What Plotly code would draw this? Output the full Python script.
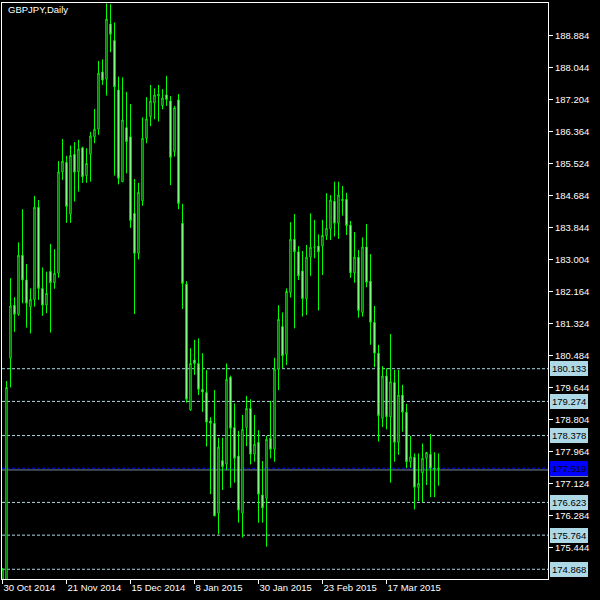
import plotly.graph_objects as go

# ---- data ----
opens = [174.30, 174.40, 180.41, 181.80, 181.56, 183.11, 182.46, 181.76, 181.95, 184.37,
         182.24, 181.80, 182.69, 182.39, 182.64, 185.30, 185.55, 184.19, 185.76, 185.30,
         185.93, 185.20, 185.76, 186.22, 186.42, 187.92, 187.73, 189.18, 188.75, 187.45,
         185.04, 186.46, 186.22, 184.21, 183.16, 184.54, 186.18, 186.75, 187.11, 187.29,
         187.04, 187.32, 187.16, 185.83, 187.19, 183.95, 182.35, 179.05, 180.36, 180.27,
         179.59, 179.51, 178.76, 178.70, 176.34, 177.72, 177.63, 179.91, 178.59, 177.84,
         176.34, 178.59, 179.09, 177.89, 178.20, 176.82, 176.73, 178.31, 178.02, 180.12,
         181.24, 180.51, 182.13, 183.53, 183.20, 182.70, 181.97, 183.06, 183.32, 183.35,
         183.35, 183.62, 183.80, 184.53, 183.95, 184.54, 184.58, 183.90, 182.65, 183.06,
         181.61, 183.33, 182.43, 181.35, 180.54, 178.83, 179.94, 178.87, 179.77, 178.20,
         179.44, 178.99, 177.69, 177.81, 177.02, 177.40, 177.78, 177.89, 177.52, 177.49]
highs = [174.90, 179.81, 182.51, 182.01, 183.45, 184.32, 182.88, 182.24, 184.67, 184.56,
         182.79, 182.68, 183.41, 183.27, 185.58, 186.16, 185.72, 185.99, 186.08, 186.14,
         185.96, 185.92, 186.35, 186.95, 188.21, 188.25, 189.72, 189.70, 189.22, 187.80,
         187.78, 187.40, 187.08, 185.11, 185.01, 186.73, 187.26, 187.58, 187.49, 187.58,
         187.47, 187.82, 187.29, 187.03, 187.34, 184.46, 182.43, 180.67, 180.89, 180.93,
         180.54, 180.10, 178.86, 179.57, 178.32, 178.32, 180.27, 179.95, 179.22, 178.50,
         178.92, 179.42, 179.33, 178.92, 178.52, 177.71, 178.37, 179.29, 180.42, 181.80,
         181.61, 182.24, 183.98, 184.19, 183.35, 183.22, 183.38, 184.21, 184.04, 183.66,
         184.04, 184.74, 184.69, 185.04, 185.04, 184.93, 184.75, 184.01, 183.72, 183.25,
         183.58, 183.93, 183.14, 181.78, 180.76, 180.20, 180.14, 181.04, 180.10, 180.10,
         179.71, 179.21, 178.37, 177.91, 177.91, 178.17, 177.95, 178.42, 177.94, 177.91]
lows = [174.10, 174.20, 179.64, 181.10, 181.52, 181.85, 181.21, 181.06, 181.76, 181.94,
        181.52, 181.59, 181.08, 182.23, 182.52, 185.09, 183.96, 183.96, 184.52, 184.78,
        185.01, 185.01, 185.04, 186.05, 186.27, 187.58, 187.30, 188.44, 185.20, 184.97,
        185.03, 185.26, 183.83, 181.57, 183.00, 184.41, 186.05, 186.50, 186.68, 186.62,
        186.94, 187.03, 184.95, 185.70, 184.32, 181.70, 179.24, 179.03, 179.97, 179.44,
        179.00, 178.09, 176.84, 176.26, 175.79, 176.95, 177.47, 177.01, 177.14, 176.09,
        175.70, 178.10, 177.62, 177.69, 176.09, 176.09, 175.46, 177.78, 177.69, 179.57,
        180.14, 180.23, 182.00, 181.19, 182.46, 181.50, 181.54, 182.57, 183.03, 181.66,
        182.59, 183.51, 183.51, 183.60, 183.54, 184.15, 183.64, 182.52, 182.39, 181.47,
        181.50, 182.27, 180.76, 180.17, 178.22, 178.60, 178.54, 177.14, 177.69, 177.87,
        178.48, 177.52, 177.53, 176.44, 176.66, 176.63, 177.08, 176.76, 176.76, 177.06]
closes = [174.87, 179.64, 181.78, 181.56, 183.11, 182.46, 181.85, 181.95, 184.37, 182.24,
          181.80, 182.11, 182.39, 182.64, 185.30, 185.58, 184.39, 185.73, 185.29, 185.90,
          185.17, 185.52, 186.24, 186.42, 187.89, 187.71, 189.31, 188.91, 187.53, 185.13,
          186.66, 186.09, 184.02, 183.16, 184.76, 186.18, 186.69, 187.16, 187.32, 187.34,
          187.24, 187.20, 185.68, 186.98, 184.47, 182.37, 179.33, 180.27, 180.27, 179.59,
          179.52, 178.73, 178.70, 176.27, 178.08, 177.56, 179.85, 178.57, 177.78, 176.42,
          178.54, 179.09, 177.89, 178.15, 176.84, 176.48, 178.28, 178.02, 180.12, 181.43,
          180.47, 182.16, 183.53, 183.20, 182.57, 181.97, 183.06, 183.32, 183.33, 183.20,
          183.63, 183.82, 184.56, 183.95, 184.69, 184.58, 183.89, 182.65, 183.06, 181.66,
          183.33, 182.40, 181.35, 180.54, 178.90, 179.94, 178.87, 179.79, 178.20, 179.44,
          178.99, 177.69, 177.82, 177.02, 177.12, 177.78, 177.93, 177.52, 177.50, 177.519]
bar_index = list(range(len(opens)))

date_tick_bars = [0, 16, 32, 48, 64, 80, 96]
date_tick_labels = ["30 Oct 2014", "21 Nov 2014", "15 Dec 2014", "8 Jan 2015",
                    "30 Jan 2015", "23 Feb 2015", "17 Mar 2015"]

price_ticks = [188.884, 188.044, 187.204, 186.364, 185.524, 184.684, 183.844, 183.004,
               182.164, 181.324, 180.484, 179.644, 178.804, 177.964, 177.124, 176.284, 175.444]

level_lines = [180.133, 179.274, 178.378, 176.623, 175.764, 174.868]
marker_level = 177.519
bid_level = 177.475

title_text = "GBPJPY,Daily"

# ---- styling ----
FONT = "Liberation Sans, Arial, sans-serif"
LIME = "#00FF00"
LIGHTBLUE = "#ADD8E6"

fig = go.Figure(go.Candlestick(
    x=bar_index, open=opens, high=highs, low=lows, close=closes,
    increasing=dict(line=dict(color=LIME, width=1), fillcolor="#000000"),
    decreasing=dict(line=dict(color=LIME, width=1), fillcolor="#FFFFFF"),
    whiskerwidth=0, hoverinfo="skip", showlegend=False,
))

shapes = []
for lv in level_lines:
    shapes.append(dict(type="line", xref="paper", x0=0, x1=1, yref="y", y0=lv, y1=lv,
                       line=dict(color=LIGHTBLUE, width=1, dash="3px,2px"), layer="below"))
shapes.append(dict(type="line", xref="paper", x0=0, x1=1, yref="y", y0=bid_level, y1=bid_level,
                   line=dict(color="#778899", width=1), layer="below"))
shapes.append(dict(type="line", xref="paper", x0=0, x1=1, yref="y", y0=marker_level, y1=marker_level,
                   line=dict(color="#0000FF", width=1, dash="3px,2px"), layer="below"))

annotations = []
for lv in level_lines:
    annotations.append(dict(x=1, xref="paper", xshift=2, xanchor="left", y=lv, yref="y",
                            yanchor="middle", text=f"{lv:.3f}", showarrow=False,
                            bgcolor=LIGHTBLUE, borderpad=1, borderwidth=1,
                            bordercolor=LIGHTBLUE,
                            font=dict(family=FONT, size=9.5, color="#000000")))
annotations.append(dict(x=1, xref="paper", xshift=2, xanchor="left", y=bid_level, yref="y",
                        yanchor="middle", text=f"{bid_level:.3f}", showarrow=False,
                        bgcolor="#778899", borderpad=1, borderwidth=1, bordercolor="#778899",
                        font=dict(family=FONT, size=9.5, color="#778899")))
annotations.append(dict(x=1, xref="paper", xshift=2, xanchor="left", y=marker_level, yref="y",
                        yanchor="middle", text=f"{marker_level:.3f}", showarrow=False,
                        bgcolor="#0000FF", borderpad=1, borderwidth=1, bordercolor="#0000FF",
                        font=dict(family=FONT, size=9.5, color="#000020")))
annotations.append(dict(x=0.008, xref="paper", xanchor="left", y=0.988, yref="paper",
                        yanchor="middle", text=title_text, showarrow=False,
                        font=dict(family=FONT, size=9.5, color="#FFFFFF")))

fig.update_layout(
    width=600, height=600,
    margin=dict(l=2, r=52, t=3, b=21, pad=0),
    paper_bgcolor="#000000", plot_bgcolor="#000000",
    boxgap=0.5,
    shapes=shapes, annotations=annotations,
    xaxis=dict(range=[-0.125, 136.375], tickmode="array", tickvals=date_tick_bars,
               ticktext=date_tick_labels, ticks="outside", ticklen=4, tickcolor="#FFFFFF",
               ticklabelposition="outside right", ticklabeloverflow="allow",
               showline=True, linecolor="#FFFFFF", linewidth=1, mirror=True,
               showgrid=False, zeroline=False, rangeslider=dict(visible=False),
               tickfont=dict(family=FONT, size=9.5, color="#FFFFFF"), fixedrange=True),
    yaxis=dict(side="right", range=[174.613, 189.731], tickmode="array",
               tickvals=price_ticks, ticktext=[f"{p:.3f}" for p in price_ticks],
               ticks="outside", ticklen=4, tickcolor="#FFFFFF", ticklabeloverflow="allow",
               showline=True, linecolor="#FFFFFF", linewidth=1, mirror=True,
               showgrid=False, zeroline=False,
               tickfont=dict(family=FONT, size=9.5, color="#FFFFFF"), fixedrange=True),
)

fig.write_html("out.html", config={"displayModeBar": False},
               post_script="document.body.style.margin='0px';")
